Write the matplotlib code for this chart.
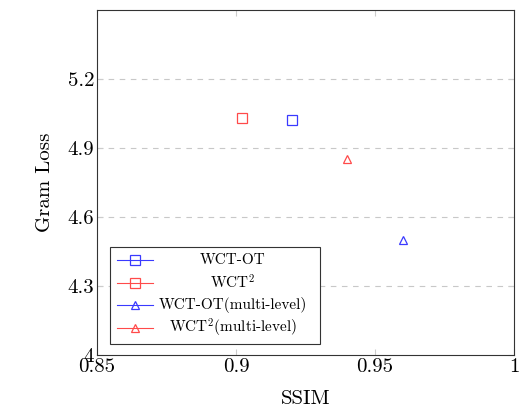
import matplotlib
matplotlib.use("Agg")
import matplotlib.pyplot as plt
from matplotlib.lines import Line2D
from matplotlib.patches import Rectangle

plt.rcParams['font.family'] = 'serif'
plt.rcParams['font.serif'] = ['cmr10']
plt.rcParams['mathtext.fontset'] = 'cm'
plt.rcParams['axes.unicode_minus'] = False

# data
methods = ['WCT-OT', r'WCT$^{\mathbf{2}}$', 'WCT-OT(multi-level)', r'WCT$^{\mathbf{2}}$(multi-level)']
ssim = [0.92, 0.902, 0.96, 0.94]
gram_loss = [5.02, 5.03, 4.50, 4.85]
colors = ['#3a3aff', '#ff4a4a', '#3a3aff', '#ff4a4a']
markers = ['s', 's', '^', '^']
msizes = [7.5, 7.5, 5.5, 5.5]

xticks = [0.85, 0.9, 0.95, 1.0]
xticklabels = ['0.85', '0.9', '0.95', '1']
yticks = [4.0, 4.3, 4.6, 4.9, 5.2]
yticklabels = ['4', '4.3', '4.6', '4.9', '5.2']

fig = plt.figure(figsize=(5.21, 4.11), dpi=100)
ax = fig.add_axes([0.186, 0.136, 0.801, 0.840])

for x, y, c, m, s in zip(ssim, gram_loss, colors, markers, msizes):
    ax.plot([x], [y], linestyle='none', marker=m, markersize=s,
            markerfacecolor='none', markeredgecolor=c, markeredgewidth=0.9)

ax.set_xlim(0.85, 1.0)
ax.set_ylim(4.0, 5.5)
ax.set_xticks(xticks)
ax.set_xticklabels(xticklabels, fontsize=15)
ax.set_yticks(yticks)
ax.set_yticklabels(yticklabels, fontsize=15)
ax.tick_params(direction='in', length=4, color='#cccccc', top=True, right=True, pad=2)

for yv in yticks[1:]:
    ax.axhline(yv, color='#c8c8c8', linestyle=(0, (5, 5)), linewidth=0.8, zorder=0)

for sp in ax.spines.values():
    sp.set_linewidth(0.8)
    sp.set_color('#333333')

ax.set_xlabel('SSIM', fontsize=15, labelpad=10)
ax.set_ylabel('Gram Loss', fontsize=15, labelpad=10)

# legend, pgfplots style with centred text
def px(xp):
    return (xp - 97) / 417.0

def py(yp):
    return (355 - yp) / 345.0

ax.add_patch(Rectangle((px(110), py(344)), px(320) - px(110), py(247) - py(344),
                       transform=ax.transAxes, facecolor='white', edgecolor='#333333',
                       linewidth=0.8, zorder=5))
row_y = [260, 283, 305, 328]
for label, c, m, s, yr in zip(methods, colors, markers, msizes, row_y):
    ax.add_line(Line2D([px(117), px(153)], [py(yr), py(yr)], transform=ax.transAxes,
                       color=c, linewidth=0.8, zorder=6))
    ax.add_line(Line2D([px(135)], [py(yr)], transform=ax.transAxes, linestyle='none',
                       marker=m, markersize=s, markerfacecolor='none', markeredgecolor=c,
                       markeredgewidth=0.9, zorder=7))
    ax.text(px(233), py(yr), label, transform=ax.transAxes, ha='center', va='center',
            fontsize=11, zorder=7)

fig.savefig('out.png', dpi=100)
